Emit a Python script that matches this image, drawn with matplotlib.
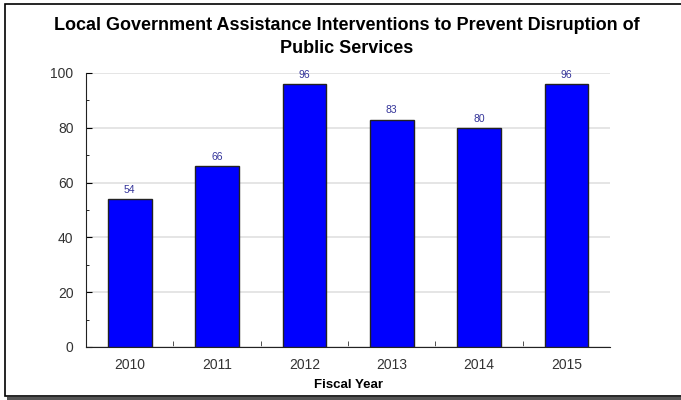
import matplotlib.pyplot as plt
from matplotlib.patches import Rectangle
from matplotlib.ticker import MultipleLocator, FixedLocator
import numpy as np

plt.rcParams['font.family'] = ['Liberation Sans', 'DejaVu Sans']

years = ['2010', '2011', '2012', '2013', '2014', '2015']
values = [54, 66, 96, 83, 80, 96]
title = 'Local Government Assistance Interventions to Prevent Disruption of\nPublic Services'

fig = plt.figure(figsize=(6.81, 4.0), dpi=100)

# outer frame with shadow (cropped on the right like the original)
fig.patches.append(Rectangle((7 / 681, 0.0), 1.0, 3 / 400, transform=fig.transFigure,
                             facecolor='#555555', edgecolor='none', zorder=-2))
fig.patches.append(Rectangle((5 / 681, 4 / 400), 1.0, 392 / 400, transform=fig.transFigure,
                             facecolor='white', edgecolor='black', linewidth=1.2, zorder=-1))

ax = fig.add_axes([86 / 681, 53 / 400, 524 / 681, 274 / 400])
ax.patch.set_alpha(0)
x = np.arange(len(years))
bars = ax.bar(x, values, width=0.5, color='#0000ff', edgecolor='#222222', linewidth=1, zorder=3)

for xi, v in zip(x, values):
    ax.text(xi, v + 1.5, str(v), ha='center', va='bottom', fontsize=7.5, color='#333399')

ax.set_xlim(-0.5, len(years) - 0.5)
ax.set_ylim(0, 100)
ax.set_xticks(x)
ax.set_xticklabels(years)
ax.xaxis.set_minor_locator(FixedLocator(np.arange(0.5, len(years) - 1, 1.0)))
ax.yaxis.set_major_locator(MultipleLocator(20))
ax.yaxis.set_minor_locator(MultipleLocator(10))
ax.tick_params(axis='x', which='major', length=0, pad=8, labelsize=10, labelcolor='#333333')
ax.tick_params(axis='x', which='minor', direction='in', length=4, color='#333333')
ax.tick_params(axis='y', which='major', direction='in', length=4, pad=9, labelsize=10, labelcolor='#333333')
ax.tick_params(axis='y', which='minor', direction='in', length=2.5)
ax.grid(axis='y', color='#e0e0e0', linewidth=1.2, zorder=0)
ax.set_axisbelow(True)
for s in ['top', 'right']:
    ax.spines[s].set_visible(False)
for s in ['left', 'bottom']:
    ax.spines[s].set_color('#222222')

ax.set_xlabel('Fiscal Year', fontsize=9.5, fontweight='bold', labelpad=5)
fig.text(347 / 681, 1 - 37 / 400, title, ha='center', va='center', fontsize=13,
         fontweight='bold', linespacing=1.5)

fig.savefig('out.png', dpi=100)
